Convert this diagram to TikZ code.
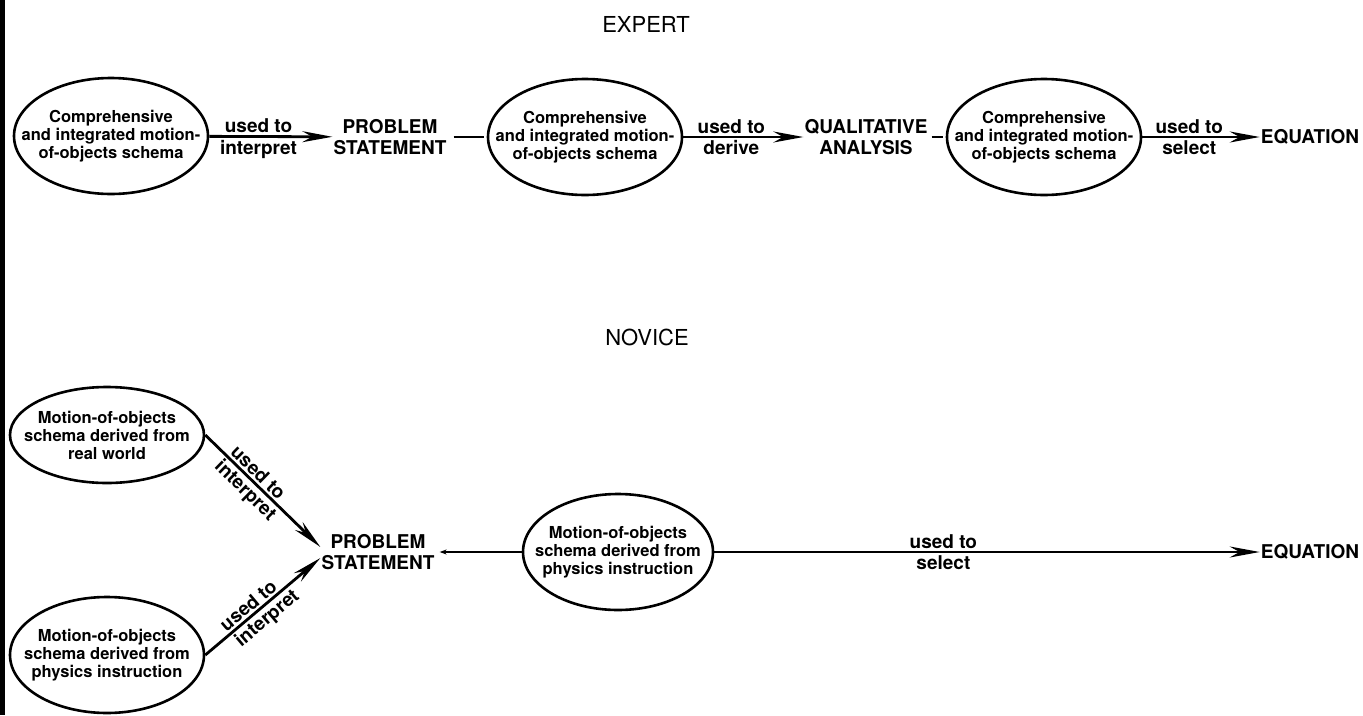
\documentclass[tikz,border=0pt]{standalone}
\usepackage{fontspec}
\setmainfont{TeX Gyre Heros}
\usetikzlibrary{arrows.meta,shapes.geometric}
\newcommand{\schemafont}{\bfseries\fontsize{16.5}{18}\selectfont}
\newcommand{\wordfont}{\bfseries\fontsize{19}{21}\selectfont}
\newcommand{\titlefont}{\fontsize{22}{24}\selectfont}

\tikzset{
  schema/.style={draw, ellipse, line width=2.6pt, minimum width=194pt,
    minimum height=116pt, inner xsep=-45pt, inner ysep=0pt, align=center,
    font=\schemafont},
  stage/.style={align=center, font=\wordfont, inner sep=1pt},
  lbl/.style={font=\wordfont, inner sep=2pt},
  link/.style={line width=2.8pt, -{Stealth[length=30pt,width=11pt]}},
  tie/.style={line width=2.4pt}
}

\begin{document}
\begin{tikzpicture}[x=1pt,y=-1pt]
      \useasboundingbox (0,0) rectangle (1363,715);
      \fill (0,0) rectangle (5,715);

      % EXPERT
      \node (expert) at (646,24) [font=\titlefont] {EXPERT};
      \node (e1) at (111,136) [schema] {Comprehensive\\and integrated motion-\\of-objects schema};
      \node (eps) at (390,137) [stage] {PROBLEM\\STATEMENT};
      \node (e2) at (585,137) [schema] {Comprehensive\\and integrated motion-\\of-objects schema};
      \node (eqa) at (866,137) [stage] {QUALITATIVE\\ANALYSIS};
      \node (e3) at (1044,137) [schema] {Comprehensive\\and integrated motion-\\of-objects schema};
      \node (eeq) at (1310,137) [stage] {EQUATION};

      \draw[link] (e1) to
        node (eu1) [lbl, above, pos=.4] {used to}
        node (ev1) [lbl, below, pos=.4] {interpret} (eps);
      \draw[tie, shorten <=6pt, shorten >=3pt] (eps) to (e2);
      \draw[link] (e2) to
        node (eu2) [lbl, above, pos=.4] {used to}
        node (ev2) [lbl, below, pos=.4] {derive} (eqa);
      \draw[tie, shorten <=3pt, shorten >=3pt] (eqa) to (e3);
      \draw[link] (e3) to
        node (eu3) [lbl, above, pos=.4] {used to}
        node (ev3) [lbl, below, pos=.4] {select} (eeq);

      % NOVICE
      \node (novice) at (647,337) [font=\titlefont] {NOVICE};
      \node (n1) at (107,435) [schema, minimum height=96pt] {Motion-of-objects\\schema derived from\\real world};
      \node (n2) at (107,655) [schema] {Motion-of-objects\\schema derived from\\physics instruction};
      \node (nps) at (378,552) [stage] {PROBLEM\\STATEMENT};
      \node (n3) at (618,552) [schema, minimum width=190pt] {Motion-of-objects\\schema derived from\\physics instruction};
      \node (neq) at (1310,552) [stage] {EQUATION};

      \draw[link] (n1.east) to
        node (nu1) [lbl, sloped, above, pos=.4] {used to}
        node (nv1) [lbl, sloped, below, pos=.42] {interpret} ([yshift=5pt]nps.west);
      \draw[link] (n2.east) to
        node (nu2) [lbl, sloped, above, pos=.43] {used to}
        node (nv2) [lbl, sloped, below, pos=.47] {interpret} ([yshift=-6pt]nps.west);
      \draw[tie, shorten >=4pt, -{Stealth[length=7pt,width=5pt]}] (n3) to (nps);
      \draw[link] (n3) to
        node (nu3) [lbl, above, pos=.42] {used to}
        node (nv3) [lbl, below, pos=.42] {select} (neq);
\end{tikzpicture}
\end{document}
